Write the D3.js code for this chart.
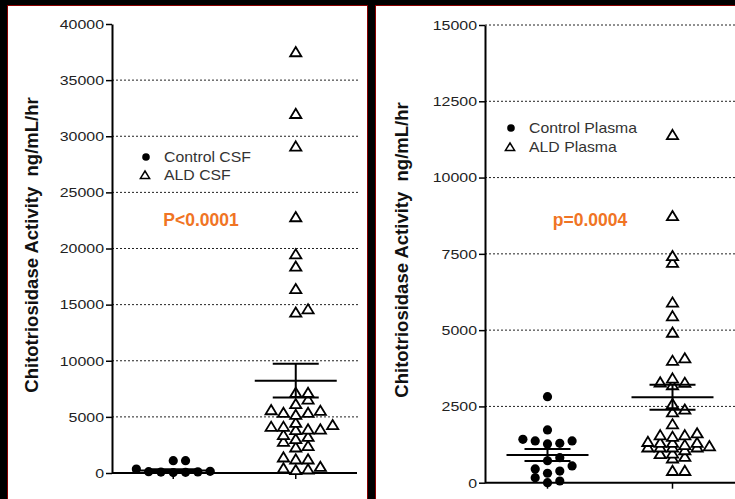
<!DOCTYPE html>
<html>
<head>
<meta charset="utf-8">
<script src="https://cdn.jsdelivr.net/npm/d3@7"></script>
<style>
body { margin: 0; background: #000; }
svg { display: block; }
text { font-family: "Liberation Sans", Arial, sans-serif; }
</style>
</head>
<body>
<div id="chart"></div>
<script>
// CSF panel
const groupsCsf = ['Control CSF', 'ALD CSF'];
const controlCsf = [1100, 1100, 350, 150, 120, 100, 80, 60, 40];
const aldCsf = [37500, 32000, 29100, 22800, 19500, 18400, 16400, 14600, 14300,
  7150, 7150, 6560, 6150, 5610, 5550, 5370, 5370, 5190, 4480, 4280, 4130, 4130,
  3890, 3890, 3830, 3390, 3230, 3030, 2790, 2410, 2290, 1400, 1220, 1220, 560,
  420, 330, 270];
const meanCsf = [230, 8225];
const semCsf = [110, 1500];
const ticksCsf = [0, 5000, 10000, 15000, 20000, 25000, 30000, 35000, 40000];
const gridCsf = [5000, 10000, 15000, 20000, 25000, 30000, 35000];

// plasma panel
const groupsPlasma = ['Control Plasma', 'ALD Plasma'];
const controlPlasma = [2820, 1730, 1420, 1370, 1370, 1290, 1270, 820, 720, 550,
  450, 380, 310, 165, 55, 0];
const aldPlasma = [11400, 8740, 7430, 7210, 5910, 5460, 4920, 4080, 4000, 3420,
  3290, 3280, 3200, 2580, 2400, 2310, 1920, 1620, 1560, 1560, 1510, 1340, 1310,
  1310, 1310, 1240, 1200, 1160, 1160, 1160, 1160, 1070, 960, 940, 850, 800, 390,
  390];
const meanPlasma = [910, 2800];
const semPlasma = [195, 410];
const ticksPlasma = [0, 2500, 5000, 7500, 10000, 12500, 15000];
const gridPlasma = [2500, 5000, 7500, 10000, 12500, 15000];

const pValues = ['P<0.0001', 'p=0.0004'];
const yTitle = 'Chitotriosidase Activity  ng/mL/hr';

const W = 735, H = 499;
const svg = d3.select('#chart').append('svg')
  .attr('width', W)
  .attr('height', H);

svg.append('rect').attr('width', W).attr('height', H).attr('fill', '#000');

const tri = 'M0,-5L5.6,4.2L-5.6,4.2Z';
const step = 12.3;

// greedy column scatter, points go to the nearest free slot
function swarm(vals, y, cx, dyMin) {
  const placed = [];
  vals.slice().sort((a, b) => a - b).forEach(v => {
    const py = y(v);
    for (let k = 0; k < 40; k++) {
      const offs = k === 0 ? [0] : (k % 2 ? [-k * step / 2, k * step / 2] : [k * step / 2, -k * step / 2]);
      const o = offs.find(o => !placed.some(p =>
        Math.abs(p.x - (cx + o)) < step * 0.9 && Math.abs(p.y - py) < dyMin));
      if (o !== undefined) { placed.push({x: cx + o, y: py, v: v}); break; }
    }
  });
  return placed;
}

function drawPanel(cfg) {
  const g = svg.append('g');

  g.append('rect')
    .attr('x', cfg.px + 0.5).attr('y', 5.5)
    .attr('width', cfg.pw).attr('height', H)
    .attr('fill', '#fff')
    .attr('stroke', '#8a0000')
    .attr('stroke-width', 1);

  const y = d3.scaleLinear()
    .domain([0, cfg.max])
    .range([cfg.y0, cfg.yTop]);

  const x = d3.scalePoint()
    .domain(cfg.groups)
    .range([cfg.ax, cfg.xEnd])
    .padding(0.5);

  // dotted grid
  g.selectAll('.grid')
    .data(cfg.grid)
    .enter().append('line')
    .attr('class', 'grid')
    .attr('x1', cfg.ax).attr('x2', cfg.gridEnd)
    .attr('y1', d => y(d)).attr('y2', d => y(d))
    .attr('stroke', '#222')
    .attr('stroke-width', 1)
    .attr('stroke-dasharray', '2,2');

  const yAxis = d3.axisLeft(y)
    .tickValues(cfg.ticks)
    .tickSize(6)
    .tickSizeOuter(0)
    .tickFormat(d3.format('d'));

  const ya = g.append('g')
    .attr('transform', 'translate(' + cfg.ax + ',0)')
    .call(yAxis);
  ya.select('.domain').attr('stroke', '#000').attr('stroke-width', 2);
  ya.selectAll('.tick line').attr('stroke', '#000').attr('stroke-width', 1.5);
  ya.selectAll('.tick text')
    .attr('x', -8 / 1.18)
    .attr('transform', 'scale(1.18,1)')
    .attr('fill', '#222')
    .style('font-size', '13.5px');

  // x axis
  g.append('line')
    .attr('x1', cfg.ax).attr('x2', cfg.xEnd)
    .attr('y1', cfg.y0).attr('y2', cfg.y0)
    .attr('stroke', '#000').attr('stroke-width', 2);
  g.selectAll('.xtick')
    .data(cfg.groups)
    .enter().append('line')
    .attr('x1', d => x(d)).attr('x2', d => x(d))
    .attr('y1', cfg.y0).attr('y2', cfg.y0 + 6)
    .attr('stroke', '#000').attr('stroke-width', 1.5);

  // points
  const ctrl = swarm(cfg.series[0], y, x(cfg.groups[0]), cfg.dy[0]);
  g.selectAll('.ctrl')
    .data(ctrl)
    .enter().append('circle')
    .attr('cx', d => d.x).attr('cy', d => d.y)
    .attr('r', 4.6)
    .attr('fill', '#000');

  const ald = swarm(cfg.series[1], y, x(cfg.groups[1]), cfg.dy[1]);
  g.selectAll('.ald')
    .data(ald)
    .enter().append('path')
    .attr('d', tri)
    .attr('transform', d => 'translate(' + d.x + ',' + d.y + ')')
    .attr('fill', '#fff')
    .attr('stroke', '#000')
    .attr('stroke-width', 1.8);

  // mean and SEM
  cfg.groups.forEach((grp, i) => {
    const cx = x(grp), m = cfg.mean[i], s = cfg.sem[i];
    const eb = g.append('g').attr('stroke', '#000').attr('stroke-width', 2);
    eb.append('line').attr('x1', cx - 41).attr('x2', cx + 41)
      .attr('y1', y(m)).attr('y2', y(m));
    eb.append('line').attr('x1', cx).attr('x2', cx)
      .attr('y1', y(m - s)).attr('y2', y(m + s));
    [m - s, m + s].forEach(v => {
      eb.append('line').attr('x1', cx - 23).attr('x2', cx + 23)
        .attr('y1', y(v)).attr('y2', y(v));
    });
  });

  // y title
  g.append('text')
    .attr('transform', 'translate(' + cfg.titleX + ',' + cfg.titleY + ') rotate(-90)')
    .attr('text-anchor', 'middle')
    .attr('fill', '#111')
    .style('font-size', '18.5px')
    .style('font-weight', 'bold')
    .style('white-space', 'pre')
    .text(yTitle);

  // legend
  const lg = g.append('g').attr('transform', 'translate(' + cfg.legX + ',' + cfg.legY + ')');
  lg.append('circle').attr('cx', 0).attr('cy', 0).attr('r', 3.8).attr('fill', '#000');
  lg.append('path').attr('d', 'M0,-4L4.6,3.4L-4.6,3.4Z')
    .attr('transform', 'translate(-1,' + cfg.legGap + ')')
    .attr('fill', '#fff').attr('stroke', '#000').attr('stroke-width', 1.5);
  cfg.groups.forEach((grp, i) => {
    lg.append('text')
      .attr('transform', 'translate(18,' + (i * cfg.legGap + 5) + ') scale(1.13,1)')
      .attr('fill', '#333')
      .style('font-size', '14px')
      .text(grp);
  });

  g.append('text')
    .attr('x', cfg.pX).attr('y', 226)
    .attr('text-anchor', 'middle')
    .attr('fill', '#f07424')
    .style('font-size', '17.5px')
    .style('font-weight', 'bold')
    .text(cfg.p);
}

drawPanel({
  px: 7, pw: 360, ax: 112, xEnd: 357, gridEnd: 358, y0: 473, yTop: 24,
  max: 40000, ticks: ticksCsf, grid: gridCsf, groups: groupsCsf,
  series: [controlCsf, aldCsf], mean: meanCsf, sem: semCsf, dy: [6, 6.5],
  titleX: 38, titleY: 245, legX: 146, legY: 157, legGap: 18,
  pX: 201, p: pValues[0]
});

drawPanel({
  px: 375, pw: 362, ax: 485, xEnd: 735, gridEnd: 735, y0: 482.7, yTop: 25,
  max: 15000, ticks: ticksPlasma, grid: gridPlasma, groups: groupsPlasma,
  series: [controlPlasma, aldPlasma], mean: meanPlasma, sem: semPlasma, dy: [8, 4.5],
  titleX: 408, titleY: 250, legX: 511, legY: 128, legGap: 19,
  pX: 590, p: pValues[1]
});
</script>
</body>
</html>
